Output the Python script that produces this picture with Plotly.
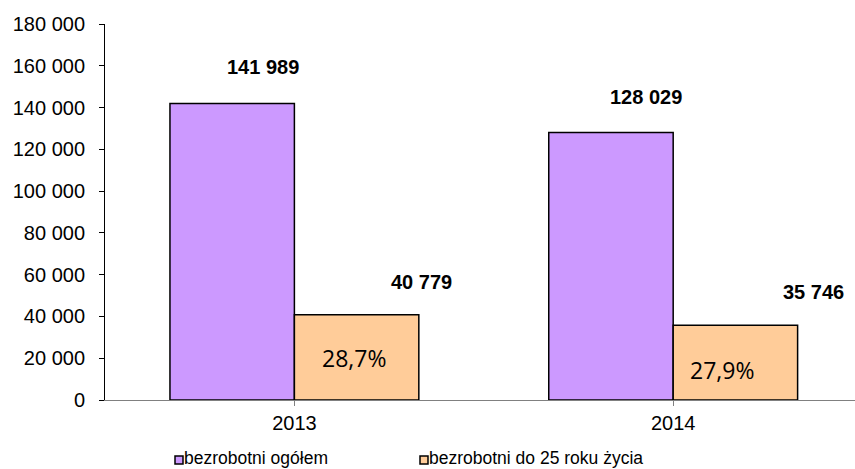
import plotly.graph_objects as go

years = ["2013", "2014"]
total = [141989, 128029]
young = [40779, 35746]
names = ["bezrobotni ogółem", "bezrobotni do 25 roku życia"]
colors = ["#CC99FF", "#FFCC99"]
y_ticks = list(range(0, 180001, 20000))

W, H = 855, 469
L, R, T, B = 105, 0, 24, 69
PW, PH = W - L - R, H - T - B

def fmt(v):
    return f"{v:,}".replace(",", " ")

def px_x(p):
    return (p - L) / PW

def px_y(p):
    return (H - B - p) / PH

fig = go.Figure()
fig.add_trace(go.Bar(x=[0, 1], y=total, name=names[0], showlegend=False,
                     marker=dict(color=colors[0], line=dict(color="black", width=1.5))))
fig.add_trace(go.Bar(x=[0, 1], y=young, name=names[1], showlegend=False,
                     marker=dict(color=colors[1], line=dict(color="black", width=1.5))))

half = 0.1645
lbl_font = dict(family="Liberation Sans, Arial", size=20, color="black")
shifts_total = [31, 35]
shifts_young = [65, 78]
for i in range(2):
    fig.add_annotation(x=i - half, y=total[i], text=f"<b>{fmt(total[i])}</b>", showarrow=False,
                       xshift=shifts_total[i], yshift=36, font=lbl_font)
    fig.add_annotation(x=i + half, y=young[i], text=f"<b>{fmt(young[i])}</b>", showarrow=False,
                       xshift=shifts_young[i], yshift=33, font=lbl_font)
    pct = young[i] / total[i] * 100
    fig.add_annotation(x=i + half, y=young[i] / 2, text=f"{pct:.1f}%".replace(".", ","), showarrow=False,
                       xshift=(-3 if i == 0 else -13), yshift=(-1 if i == 0 else -7),
                       font=dict(family="Open Sans, Noto Sans", size=23, color="black"))

# legend drawn manually (small bordered squares right next to the text)
legend_sq_x = [175, 420]
for k in range(2):
    x0 = legend_sq_x[k]
    fig.add_shape(type="rect", xref="paper", yref="paper",
                  x0=px_x(x0), x1=px_x(x0 + 8), y0=px_y(464), y1=px_y(456),
                  fillcolor=colors[k], line=dict(color="black", width=1.5))
    fig.add_annotation(xref="paper", yref="paper", x=px_x(x0 + 8), y=px_y(457.5), xanchor="left",
                       yanchor="middle", text=names[k], showarrow=False, borderpad=0,
                       font=dict(family="Liberation Sans, Arial", size=17.5, color="black"))

fig.update_layout(
    width=W, height=H,
    margin=dict(l=L, r=R, t=T, b=B, autoexpand=False),
    plot_bgcolor="white", paper_bgcolor="white",
    barmode="group", bargap=0.343, bargroupgap=0,
    separators=", ",
    font=dict(family="Liberation Sans, Arial", size=20, color="black"),
    showlegend=False,
    xaxis=dict(range=[-0.5, 1.48], tickmode="array", tickvals=[0, 1], ticktext=years, automargin=False,
               showline=True, linecolor="#808080", linewidth=1, ticks="outside", tickson="boundaries",
               tickcolor="#808080", ticklen=5, showgrid=False, zeroline=False, tickfont=dict(size=20)),
    yaxis=dict(range=[0, 180000], tickvals=y_ticks, tickformat=",d", showline=True, linecolor="black",
               automargin=False, linewidth=1, ticks="outside", ticklen=5, tickcolor="black",
               ticklabelstandoff=10,
               showgrid=False, zeroline=False, tickfont=dict(size=20)),
)

fig.write_html("out.html", config={"displayModeBar": False},
               post_script="document.body.style.margin='0px';document.body.style.overflow='hidden';")
